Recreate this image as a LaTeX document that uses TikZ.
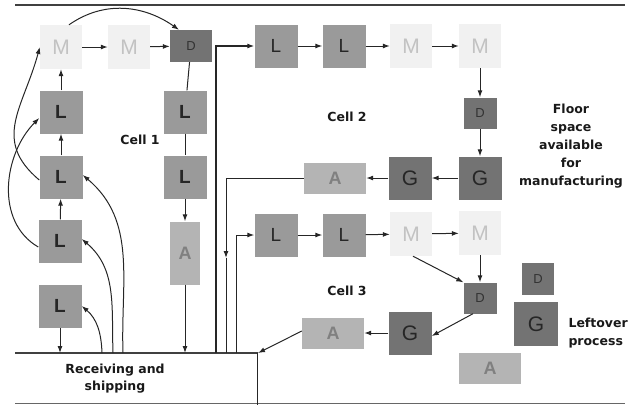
\documentclass[tikz,border=0pt]{standalone}
\usepackage{fontspec}
\setmainfont{Liberation Sans}
\newfontfamily\lblfont{DejaVu Sans}
\usetikzlibrary{arrows.meta}
\definecolor{lgray}{HTML}{9A9A9A}
\definecolor{dgray}{HTML}{737373}
\definecolor{agray}{HTML}{B4B4B4}
\definecolor{mgray}{HTML}{F1F1F1}
\definecolor{mtext}{HTML}{C2C2C2}
\definecolor{atext}{HTML}{808080}
\tikzset{
  bx/.style={inner sep=0pt, draw=none},
  lbox/.style={bx, fill=lgray, minimum width=43pt, minimum height=43pt, font=\fontsize{19}{19}\selectfont, text=black!85},
  lboxb/.style={lbox, font=\fontsize{19}{19}\selectfont\bfseries},
  mbox/.style={bx, fill=mgray, minimum width=42pt, minimum height=44pt, font=\fontsize{21}{21}\selectfont, text=mtext},
  dbox/.style={bx, fill=dgray, minimum width=33pt, minimum height=31pt, font=\fontsize{13}{13}\selectfont, text=black!80},
  gbox/.style={bx, fill=dgray, minimum width=43pt, minimum height=43pt, font=\fontsize{21}{21}\selectfont, text=black!85},
  abox/.style={bx, fill=agray, minimum width=62pt, minimum height=31pt, font=\fontsize{18}{18}\selectfont\bfseries, text=atext},
  lbl/.style={font=\lblfont\bfseries\fontsize{12.5}{17.8}\selectfont, align=center, text=black!90},
  arr/.style={-{Latex[length=7pt,width=5pt]}, line width=1pt, black!85},
  ln/.style={line width=1pt, black!85},
  frame/.style={line width=1.3pt, black!75}
}
\begin{document}
\begin{tikzpicture}[x=1pt,y=-1pt]
\useasboundingbox (0,0) rectangle (629,405);
% frame lines
\draw[frame] (15,5) -- (625,5);
\draw[line width=1pt, black!60] (15,403) -- (625,403);
\draw[frame] (15,353) -- (258,353);
\draw[ln] (257,353) -- (257,405);
\node[lbl, font=\lblfont\bfseries\fontsize{12.5}{17}\selectfont] (recv) at (115,379) {Receiving and\\shipping};

% Cell 1
\node[mbox] (m1) at (61,47) {M};
\node[mbox] (m2) at (129,47) {M};
\node[dbox, minimum width=42pt, minimum height=32pt] (d1) at (191,46) {D};
\node[lboxb] (l1) at (61,112) {L};
\node[lboxb] (l2) at (61,177) {L};
\node[lboxb] (l3) at (60,241) {L};
\node[lboxb] (l4) at (60,306) {L};
\node[lboxb] (l5) at (185,112) {L};
\node[lboxb] (l6) at (185,177) {L};
\node[abox, minimum width=30pt, minimum height=63pt] (a1) at (185,253) {A};
\node[lbl] (c1) at (140,140) {Cell 1};

% Cell 2
\node[lbox] (l7) at (276,46) {L};
\node[lbox] (l8) at (344,46) {L};
\node[mbox] (m3) at (411,46) {M};
\node[mbox] (m4) at (480,46) {M};
\node[dbox] (d2) at (480,113) {D};
\node[gbox] (g1) at (480,178) {G};
\node[gbox] (g2) at (410,178) {G};
\node[abox] (a2) at (335,178) {A};
\node[lbl] (c2) at (347,117) {Cell 2};
\node[lbl] (floor) at (571,146) {Floor\\space\\available\\for\\manufacturing};

% Cell 3
\node[lbox] (l9) at (276,235) {L};
\node[lbox] (l10) at (344,235) {L};
\node[mbox] (m5) at (411,234) {M};
\node[mbox] (m6) at (480,233) {M};
\node[dbox] (d3) at (480,298) {D};
\node[gbox] (g3) at (410,333) {G};
\node[abox] (a3) at (333,333) {A};
\node[lbl] (c3) at (347,291) {Cell 3};

% Leftover
\node[dbox, minimum width=32pt, minimum height=32pt] (d4) at (538,279) {D};
\node[gbox, minimum width=44pt, minimum height=44pt] (g4) at (536,324) {G};
\node[abox] (a4) at (490,368) {A};
\node[lbl, align=left, anchor=west] (left) at (565,333) {Leftover\\process};

% coordinates on receiving line
\coordinate (r1) at (60,353);
\coordinate (r2) at (102,353);
\coordinate (r3) at (113,353);
\coordinate (r4) at (123,353);
\coordinate (r5) at (185,353);
\coordinate (r6) at (216,353);
\coordinate (r7) at (226,353);
\coordinate (r8) at (236,353);
\coordinate (r9) at (258,353);
\coordinate (mid7) at (226,258);

% Cell 1 connectors
\draw[arr] (m1) -- (m2);
\draw[arr] (m2) -- (d1);
\draw[ln] (d1) -- (l5);
\draw[ln] (l5) -- (l6);
\draw[arr] (l6) -- (a1);
\draw[arr] (a1) -- (r5);
\draw[arr] (l1) -- (m1);
\draw[arr] (l2) -- (l1);
\draw[arr] (l3) -- (l2);
\draw[arr] (l4) -- (r1);
\draw[arr] ([xshift=8pt]m1.north) to[out=35,in=145] ([xshift=-12pt]d1.north);
\draw[arr] ([yshift=-3pt]l2.west) to[out=140,in=255,looseness=1.2] (m1.west);
\draw[arr] ([yshift=-6pt]l3.west) to[out=150,in=225] ([yshift=-6pt]l1.west);
\draw[arr] (r2) to[out=92,in=-40] (l4.east);
\draw[arr] (r3) to[out=92,in=-40] ([yshift=2pt]l3.east);
\draw[arr] (r4) to[out=92,in=-40] ([yshift=2pt]l2.east);

% Cell 2 connectors
\draw[arr, line width=1.3pt] (r6) |- (l7);
\draw[arr] (l7) -- (l8);
\draw[arr] (l8) -- (m3);
\draw[arr] (m3) -- (m4);
\draw[arr] (m4) -- (d2);
\draw[arr] (d2) -- (g1);
\draw[arr] (g1) -- (g2);
\draw[arr] (g2) -- (a2);
\draw[arr] (a2) -| (mid7);
\draw[ln] (mid7) -- (r7);

% Cell 3 connectors
\draw[arr] (r8) |- (l9);
\draw[arr] (l9) -- (l10);
\draw[arr] (l10) -- (m5);
\draw[arr] (m5) -- (m6);
\draw[arr] (m6) -- (d3);
\draw[arr] ([xshift=2pt]m5.south) -- (d3.north west);
\draw[arr] ([xshift=-7pt]d3.south) -- ([yshift=-3pt]g3.east);
\draw[arr] (g3) -- (a3);
\draw[arr] ([yshift=2pt]a3.west) -- (r9);
\end{tikzpicture}
\end{document}
